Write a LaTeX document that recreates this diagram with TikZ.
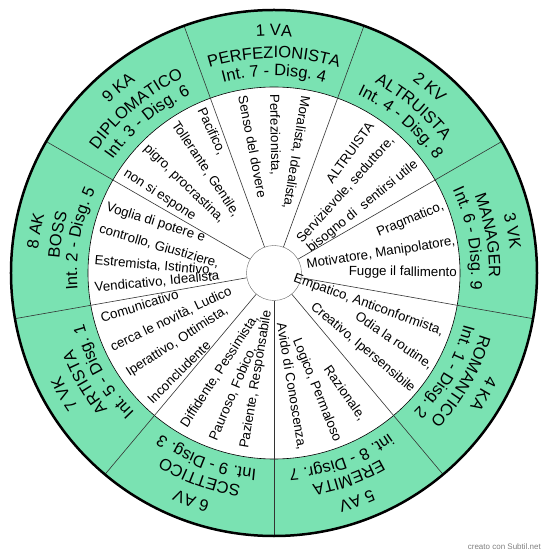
\documentclass[tikz,border=0pt]{standalone}
\usepackage{fontspec}
\setmainfont{Liberation Sans}
\usetikzlibrary{decorations.text}
\definecolor{wheelgreen}{RGB}{122,226,178}
\newcommand\ttlfont{\fontsize{16.5}{19}\selectfont}
\newcommand\titlearc[3]{\path[decorate,decoration={text along path,text align=center,text={|\ttlfont|#3}}] (#1+30:#2) arc[start angle=#1+30,end angle=#1-30,radius=#2];}
\newcommand\wedgetitle[4]{\titlearc{#1}{237}{#2}\titlearc{#1}{215}{#3}\titlearc{#1}{197}{#4}}
\begin{document}
\begin{tikzpicture}[x=1pt,y=1pt,
    trait/.style={font=\fontsize{13.3}{16}\selectfont,inner sep=0pt},
    readin/.style={trait,anchor=west},
    readout/.style={trait,anchor=east}]
    \useasboundingbox (-274,-286) rectangle (276,273);
    %% Rings
    \fill[wheelgreen] (0,0) circle[radius=263];
    \draw[fill=white,line width=0.6pt] (0,0) circle[radius=186];
    \node[circle,draw=black!60,fill=white,minimum size=55pt,inner sep=0pt] (hub) at (0,0) {};
    %% Spokes
    \foreach \a in {30,70,...,350}
        \draw[line width=0.6pt,black!80] (hub.\a) -- (\a:263);
    \draw[line width=2.5pt] (0,0) circle[radius=263];
    %% Types on the green ring
    \wedgetitle{90}{1 VA}{PERFEZIONISTA}{Int. 7 - Disg. 4}
    \wedgetitle{50}{2 KV}{ALTRUISTA}{Int. 4 - Disg. 8}
    \wedgetitle{10}{3 VK}{MANAGER}{Int. 6 - Disg. 9}
    \wedgetitle{-30}{4 KA}{ROMANTICO}{Int. 1 - Disg. 2}
    \wedgetitle{-70}{5 AV}{EREMITA}{int. 8 - Disgr. 7}
    \wedgetitle{-110}{6 AV}{SCETTICO}{Int. 9 - Disg. 3}
    \wedgetitle{-150}{7 VK}{ARTISTA}{Int. 5 - Disg. 1}
    \wedgetitle{170}{8 AK}{BOSS}{Int. 2 - Disg. 5}
    \wedgetitle{130}{9 KA}{DIPLOMATICO}{Int. 3 - Disg. 6}
    %% Traits, read towards the hub
    \foreach \p/\d/\r/\t [count=\i] in {
        80/180/-99/{Moralista, Idealista,}, 90/179/-89/{Perfezionista,}, 100/180/-79/{Senso del dovere},
        114/180/-65/{Pacifico,}, 123.5/180/-56/{Tollerante, Gentile,}, 135.5/180/-44/{pigro, procrastina,}, 146/180/-33/{non si espone},
        158.6/180/-17.5/{Voglia di potere e}, 165.8/180/-16.5/{controllo, Giustiziere,}, 176/180/-5/{Estremista, Istintivo,}, 184.8/180/5.5/{Vendicativo, Idealista},
        194.5/179/17/{Comunicativo}, 204.6/179/25.5/{cerca le novità, Ludico}, 214.6/178/33/{Iperattivo, Ottimista,}, 225.9/179/45/{Inconcludente},
        239.5/178/57/{Diffidente, Pessimista,}, 250/178/67/{Pauroso, Fobico,}, 260.5/178/80.5/{Paziente, Responsabile}}
        \node[readin,rotate=\r] (in\i) at (\p:\d) {\t};
    %% Traits, read towards the rim
    \foreach \p/\d/\r/\t [count=\i] in {
        57/178/54/{ALTRUISTA}, 48.8/179/48/{Servizievole, seduttore,}, 37.6/180/39/{bisogno di\ \ sentirsi utile},
        21.5/182/22.5/{Pragmatico,}, 9.8/184/9/{Motivatore, Manipolatore,}, 0/183/-0.5/{Fugge il fallimento},
        -19.3/179/-20/{Empatico, Anticonformista,}, -30.6/183/-34/{Odia la routine,}, -40.1/182/-40/{Creativo, Ipersensibile},
        -58.7/171/-55/{Razionale,}, -69.4/180/-68/{Logico, Permaloso}, -81/179/-80.5/{Avido di Conoscenza,}}
        \node[readout,rotate=\r] (out\i) at (\p:\d) {\t};
    \node[anchor=east,inner sep=0pt,text=black!50,font=\fontsize{8}{9}\selectfont] (credit) at (267,-274) {creato con Subtil.net};
\end{tikzpicture}
\end{document}
